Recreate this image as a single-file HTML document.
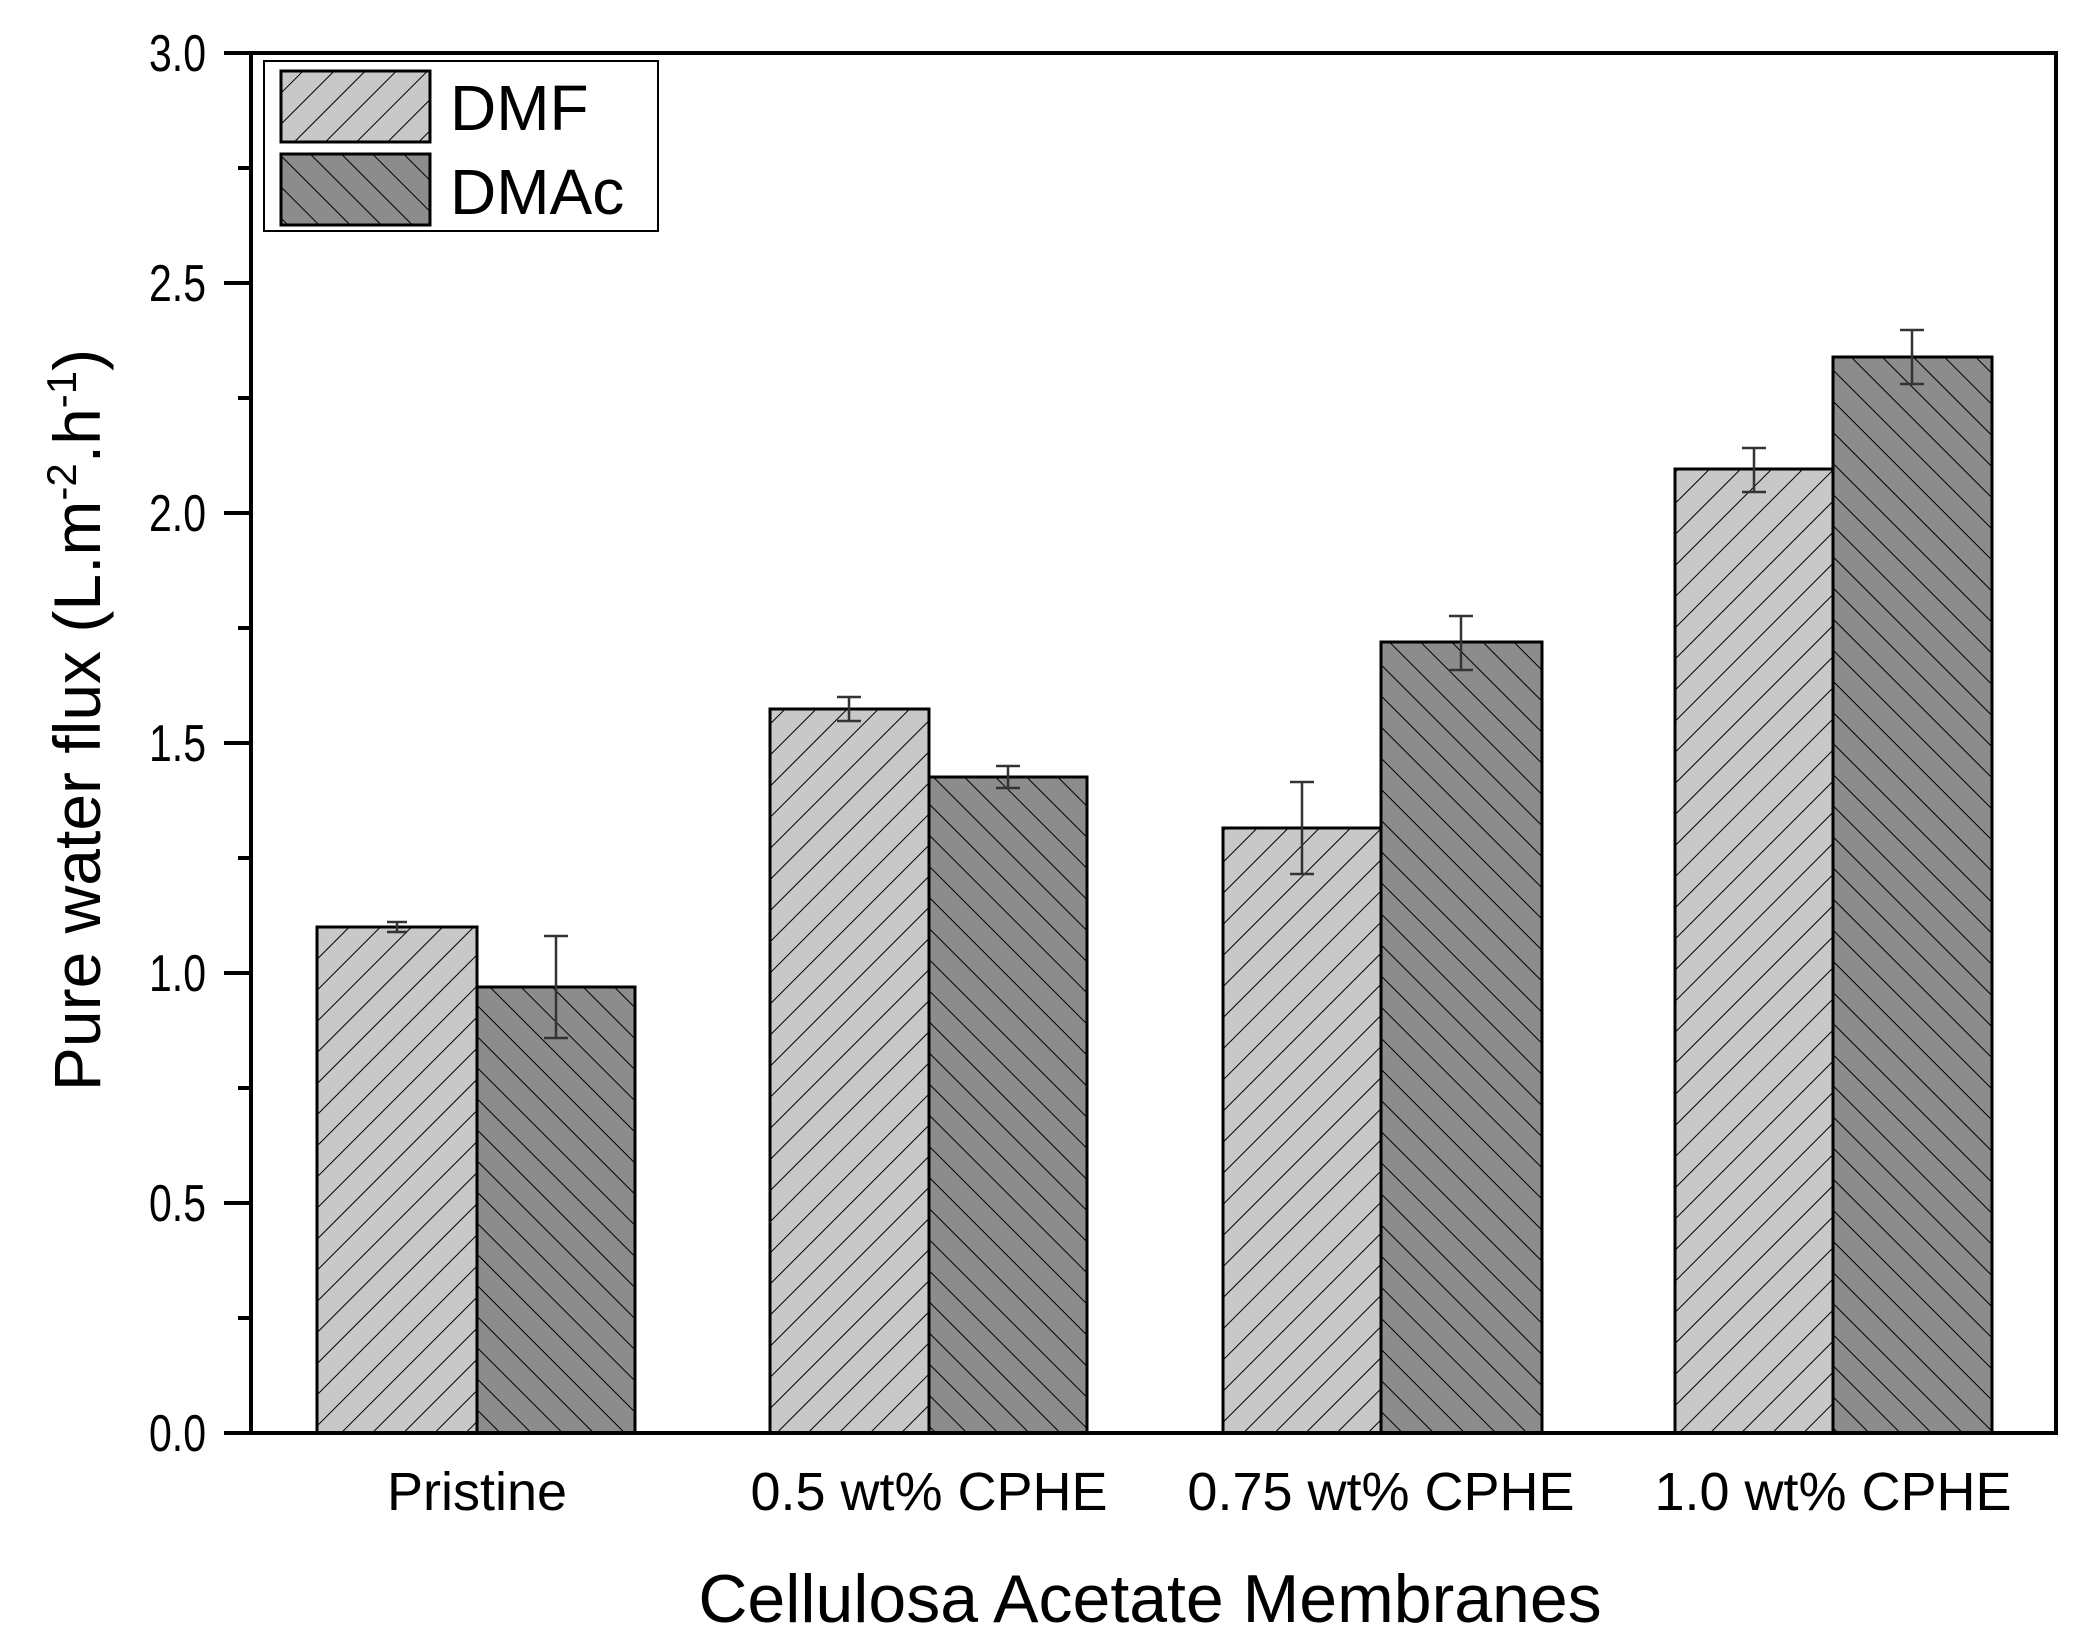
<!DOCTYPE html>
<html><head><meta charset="utf-8"><style>
html,body{margin:0;padding:0;background:#fff;}
svg{display:block;}
text{font-family:"Liberation Sans",Arial,sans-serif;fill:#000;}
</style></head><body>
<svg width="2090" height="1643" viewBox="0 0 2090 1643" xmlns="http://www.w3.org/2000/svg">
<defs>
<pattern id="pf" width="22" height="22" patternUnits="userSpaceOnUse" patternTransform="rotate(45)">
<rect width="22" height="22" fill="#c8c8c8"/>
<line x1="0" y1="0" x2="0" y2="22" stroke="#000" stroke-width="2"/>
</pattern>
<pattern id="pd" width="22" height="22" patternUnits="userSpaceOnUse" patternTransform="rotate(-45)">
<rect width="22" height="22" fill="#8c8c8c"/>
<line x1="0" y1="0" x2="0" y2="22" stroke="#000" stroke-width="2"/>
</pattern>
</defs>

<g stroke="#000" stroke-width="3">
<rect x="317" y="927" width="160" height="506" fill="url(#pf)"/>
<rect x="477" y="987" width="158" height="446" fill="url(#pd)"/>
<rect x="770" y="709" width="159" height="724" fill="url(#pf)"/>
<rect x="929" y="777" width="158" height="656" fill="url(#pd)"/>
<rect x="1223" y="828" width="158" height="605" fill="url(#pf)"/>
<rect x="1381" y="642" width="161" height="791" fill="url(#pd)"/>
<rect x="1675" y="469" width="158" height="964" fill="url(#pf)"/>
<rect x="1833" y="357" width="159" height="1076" fill="url(#pd)"/>
</g>

<g stroke="#333" stroke-width="2.5" fill="none">
<path d="M397 922V932M387 922H407M387 932H407"/>
<path d="M556 936V1038M544 936H568M544 1038H568"/>
<path d="M849 697V721M837 697H861M837 721H861"/>
<path d="M1008 766V788M996 766H1020M996 788H1020"/>
<path d="M1302 782V874M1290 782H1314M1290 874H1314"/>
<path d="M1461 616V670M1449 616H1473M1449 670H1473"/>
<path d="M1754 448V492M1742 448H1766M1742 492H1766"/>
<path d="M1912 330V384M1900 330H1924M1900 384H1924"/>
</g>

<g stroke="#000" stroke-width="4" fill="none">
<rect x="251" y="53" width="1805" height="1380"/>
<path d="M224 1433H251M224 1203H251M224 973H251M224 743H251M224 513H251M224 283H251M224 53H251"/>
<path d="M238 1318H251M238 1088H251M238 858H251M238 628H251M238 398H251M238 168H251"/>
</g>

<g font-size="52" text-anchor="end">
<text x="206" y="1451" textLength="57" lengthAdjust="spacingAndGlyphs">0.0</text>
<text x="206" y="1221" textLength="57" lengthAdjust="spacingAndGlyphs">0.5</text>
<text x="206" y="991" textLength="57" lengthAdjust="spacingAndGlyphs">1.0</text>
<text x="206" y="761" textLength="57" lengthAdjust="spacingAndGlyphs">1.5</text>
<text x="206" y="531" textLength="57" lengthAdjust="spacingAndGlyphs">2.0</text>
<text x="206" y="301" textLength="57" lengthAdjust="spacingAndGlyphs">2.5</text>
<text x="206" y="71" textLength="57" lengthAdjust="spacingAndGlyphs">3.0</text>
</g>

<g font-size="54" text-anchor="middle">
<text x="477" y="1510">Pristine</text>
<text x="929" y="1510">0.5 wt% CPHE</text>
<text x="1381" y="1510">0.75 wt% CPHE</text>
<text x="1833" y="1510">1.0 wt% CPHE</text>
</g>
<text x="1150" y="1622" font-size="68" text-anchor="middle">Cellulosa Acetate Membranes</text>
<text transform="translate(100,720) rotate(-90)" font-size="66" text-anchor="middle">Pure water flux (L.m<tspan font-size="42" dy="-24">-2</tspan><tspan dy="24">.h</tspan><tspan font-size="42" dy="-24">-1</tspan><tspan dy="24">)</tspan></text>

<rect x="264" y="61" width="394" height="170" fill="#fff" stroke="#000" stroke-width="2"/>
<rect x="281" y="71" width="149" height="71" fill="url(#pf)" stroke="#000" stroke-width="3"/>
<rect x="281" y="154" width="149" height="71" fill="url(#pd)" stroke="#000" stroke-width="3"/>
<text x="450" y="130" font-size="64">DMF</text>
<text x="450" y="214" font-size="64">DMAc</text>
</svg>
</body></html>
